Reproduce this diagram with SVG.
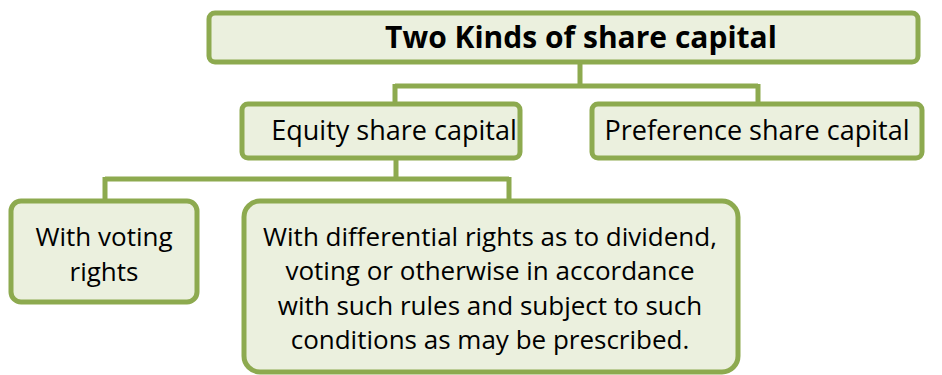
<svg xmlns="http://www.w3.org/2000/svg" width="942" height="375" viewBox="0 0 942 375">
<style>
.box{fill:#EBF0DE;stroke:#8DAA4F;stroke-width:5}
.con{fill:none;stroke:#8DAA4F;stroke-width:5}
text{font-family:"Open Sans","Noto Sans","DejaVu Sans",sans-serif;fill:#000;text-anchor:middle}
.t{font-size:27px}
.s{font-size:26px}
.b{font-size:30px;font-weight:bold}
</style>
<rect width="942" height="375" fill="#fff"/>
<g id="connectors">
<path class="con" d="M580 62 V86 M395 86 H758 M395 84 V104 M758 84 V104"/>
<path class="con" d="M396 158 V179 M105 179 H509 M105 177 V201 M509 177 V201"/>
</g>
<g id="n-top">
<rect class="box" x="209" y="13" width="709" height="49" rx="6"/>
<text class="b" x="581" y="48">Two Kinds of share capital</text>
</g>
<g id="n-equity">
<rect class="box" x="242" y="104" width="278" height="54" rx="6"/>
<text class="t" x="394" y="140">Equity share capital</text>
</g>
<g id="n-pref">
<rect class="box" x="592" y="104" width="330" height="54" rx="6"/>
<text class="t" x="757" y="140">Preference share capital</text>
</g>
<g id="n-voting">
<rect class="box" x="11" y="201" width="186" height="101" rx="10"/>
<text class="s" x="104" y="246">With voting</text>
<text class="s" x="104" y="281">rights</text>
</g>
<g id="n-diff">
<rect class="box" x="244" y="201" width="494" height="171" rx="16"/>
<text class="s" x="490" y="246">With differential rights as to dividend,</text>
<text class="s" x="490" y="280">voting or otherwise in accordance</text>
<text class="s" x="490" y="315">with such rules and subject to such</text>
<text class="s" x="490" y="349">conditions as may be prescribed.</text>
</g>
</svg>
